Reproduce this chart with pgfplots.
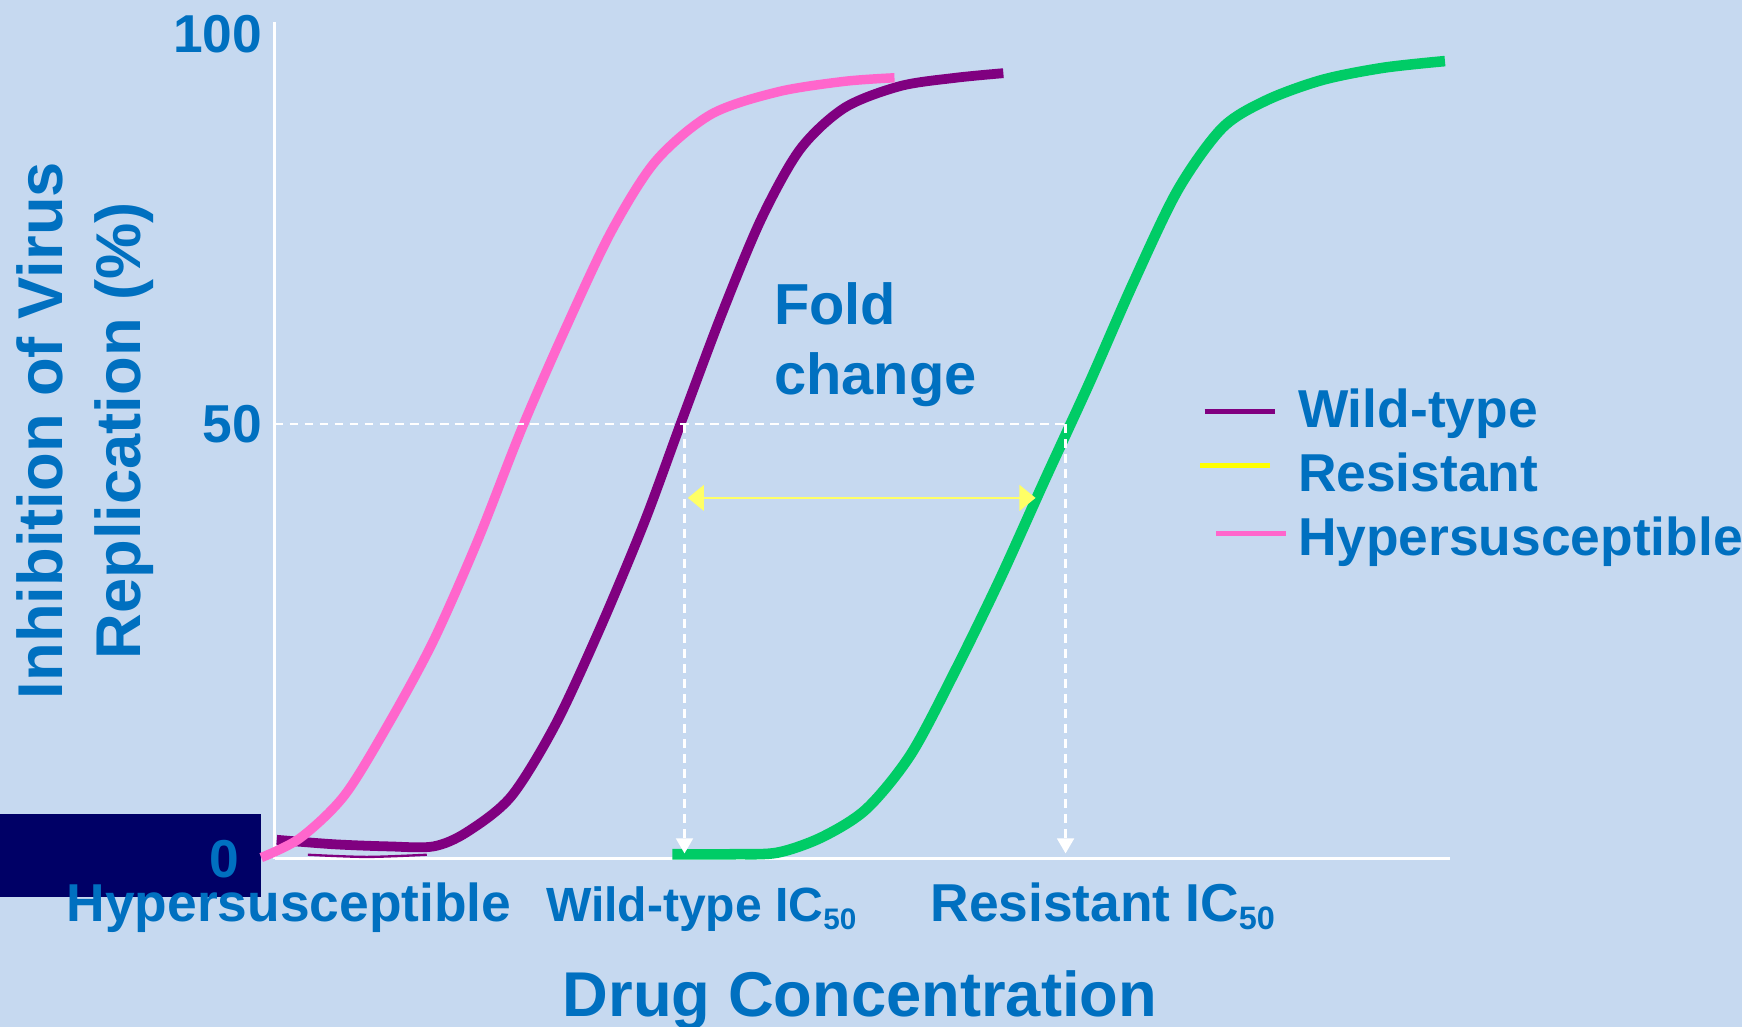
\documentclass[border=0pt]{standalone}
\usepackage{fontspec}
\setmainfont{Liberation Sans}
\usepackage{pgfplots}
\pgfplotsset{compat=1.18}
\usetikzlibrary{arrows.meta}
\definecolor{bgblue}{RGB}{198,217,240}
\definecolor{txtblue}{RGB}{0,112,192}
\definecolor{navybox}{RGB}{0,0,102}
\definecolor{wtpurple}{RGB}{128,0,128}
\definecolor{hspink}{RGB}{255,102,204}
\definecolor{rgreen}{RGB}{0,204,102}
\definecolor{legyellow}{RGB}{255,255,0}
\definecolor{arrowyellow}{RGB}{255,255,102}
\newcommand\tickfont{\fontsize{13.66pt}{16pt}\selectfont\bfseries}
\newcommand\titlefont{\fontsize{16.2pt}{19.9pt}\selectfont\bfseries}
\newcommand\foldfont{\fontsize{14.8pt}{17.9pt}\selectfont\bfseries}
\newcommand\sub[2]{\raisebox{-2pt}{\fontsize{#1}{9pt}\selectfont #2}}

\begin{document}
\begin{tikzpicture}[x=0.01cm,y=0.01cm]
\fill[bgblue] (0,0) rectangle (1568,924);
\useasboundingbox (0,0) rectangle (1568,924);
\fill[navybox] (0,116.4) rectangle (235,191.4);
\begin{axis}[
  at={(2.47cm,1.51cm)}, anchor=south west,
  scale only axis, clip=false,
  x=0.01cm, y=0.0782cm,
  xmin=247, xmax=1305, ymin=0, ymax=96.3,
  axis lines=left,
  axis line style={-, draw=white, line width=0.03cm},
  major tick length=0pt,
  tick style={draw=none},
  xtick={260,631,992.5},
  xticklabels={Hypersusceptible, {\fontsize{12.3pt}{14pt}\selectfont Wild-type IC\sub{7.6pt}{50}}, Resistant IC\sub{8.3pt}{50}},
  xticklabel style={anchor=base, yshift=-0.565cm, inner sep=0pt, font=\tickfont, text=txtblue},
  ytick={50,94.9},
  yticklabels={50,100},
  yticklabel style={anchor=east, inner sep=0pt, xshift=-0.105cm, font=\tickfont, text=txtblue},
  extra y ticks={0}, extra y tick labels={0},
  extra y tick style={yticklabel style={xshift=-0.21cm}},
  xlabel={Drug Concentration},
  xlabel style={at={(axis description cs:0.4981,-0.1887)}, anchor=base, inner sep=0pt, font=\titlefont, text=txtblue},
  ylabel={Inhibition of Virus\\Replication (\%)},
  ylabel style={at={(axis description cs:-0.1611,0.5113)}, anchor=center, rotate=0, align=center, inner sep=0pt, font=\titlefont, text=txtblue},
  legend style={draw=none, fill=none, inner sep=0pt, outer sep=0pt, row sep=0pt, column sep=0.07cm,
     at={(axis description cs:0.7854,0.5682)}, anchor=north west,
     nodes={inner sep=0pt, text height=0.40cm, text depth=0.175cm, font=\tickfont, text=txtblue}},
  legend cell align=left,
]
% Wild-type
\addplot[wtpurple, line width=0.088cm, smooth, forget plot] coordinates {
(249,2.17) (300,1.66) (350,1.41) (390,1.41) (420,3.04) (460,7.16) (500,15.47)
(540,26.5) (580,38.75) (615,50.9) (650,62.81) (685,73.57) (720,81.59) (760,86.37)
(810,88.87) (860,89.83) (903,90.36)};
\addplot[wtpurple, line width=0.6pt, smooth, forget plot] coordinates {(277,0.45) (330,0.2) (384,0.45)};
% Hypersusceptible
\addplot[hspink, line width=0.085cm, smooth, forget plot] coordinates {
(235,0.13) (270,2.37) (310,7.29) (350,15.6) (390,25.06) (430,36.64) (470,49.62)
(510,61.3) (550,72.12) (590,80.24) (640,85.63) (700,88.21) (760,89.42) (805,89.83)};
% Resistant
\addplot[rgreen, line width=0.095cm, smooth, forget plot] coordinates {
(605,0.51) (660,0.51) (700,0.70) (740,2.49) (780,5.75) (820,12.05) (860,21.69)
(900,32.17) (940,43.48) (980,54.6) (1020,66.24) (1060,76.92) (1100,84.05)
(1140,87.25) (1190,89.58) (1245,90.98) (1300.5,91.75)};
% legend
\addlegendimage{legend image code/.code={\path[draw=none,fill=none] (0cm,-0.15cm) rectangle (0.82cm,0.15cm); \draw[wtpurple, line width=0.045cm] (0.05cm,0.032cm) -- (0.68cm,0.032cm);}}
\addlegendentry{Wild-type}
\addlegendimage{legend image code/.code={\path[draw=none,fill=none] (0cm,-0.15cm) rectangle (0.82cm,0.15cm); \draw[legyellow, line width=0.045cm] (0.01cm,0.12cm) -- (0.636cm,0.12cm);}}
\addlegendentry{Resistant}
\addlegendimage{legend image code/.code={\path[draw=none,fill=none] (0cm,-0.15cm) rectangle (0.82cm,0.15cm); \draw[hspink, line width=0.045cm] (0.156cm,0.085cm) -- (0.785cm,0.085cm);}}
\addlegendentry{Hypersusceptible}
% guides
\draw[white, line width=0.024cm, dash pattern=on 0.08cm off 0.055cm] (axis cs:247,50) -- (axis cs:959,50);
\draw[white, line width=0.024cm, dash pattern=on 0.08cm off 0.055cm, -{Triangle[width=0.15cm,length=0.135cm]}] (axis cs:616,50) -- (axis cs:616,0.6);
\draw[white, line width=0.024cm, dash pattern=on 0.08cm off 0.055cm, -{Triangle[width=0.15cm,length=0.135cm]}] (axis cs:959,50) -- (axis cs:959,0.6);
\draw[arrowyellow, line width=0.025cm, {Triangle[width=0.23cm,length=0.145cm]}-{Triangle[width=0.23cm,length=0.145cm]}] (axis cs:619,41.5) -- (axis cs:932,41.5);
\node[anchor=north west, align=left, inner sep=0pt, font=\foldfont, text=txtblue] at (axis cs:696,66.4) {Fold\\change};
\end{axis}
\end{tikzpicture}
\end{document}
